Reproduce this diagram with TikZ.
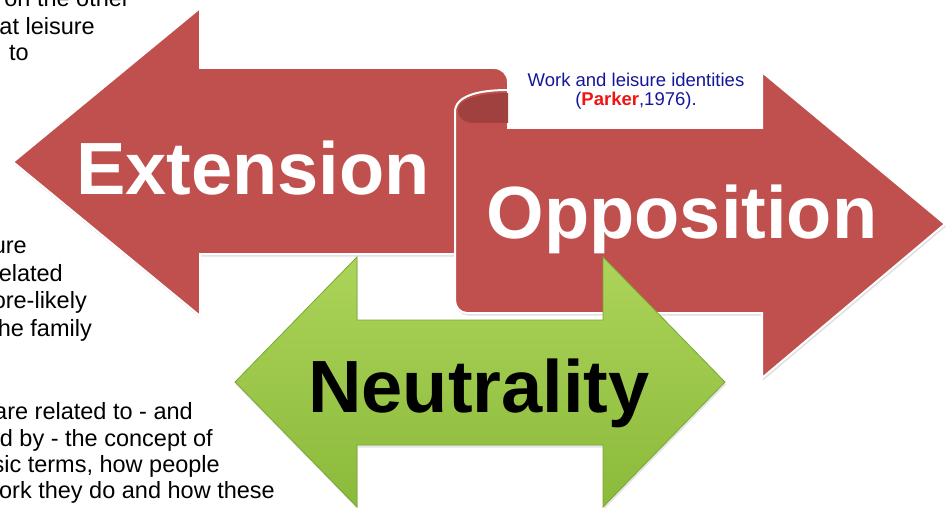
\documentclass[tikz,border=0pt]{standalone}
\usepackage{fontspec}
\setmainfont{Liberation Sans}
\usetikzlibrary{shadows}
\definecolor{arrowred}{HTML}{C0504D}
\definecolor{curlred}{HTML}{A0413F}
\definecolor{ngreenT}{HTML}{ACD45A}
\definecolor{ngreenB}{HTML}{8BBA3A}
\definecolor{ngreenE}{HTML}{7AA732}
\definecolor{boxblue}{HTML}{16169A}
\definecolor{parkred}{HTML}{F01414}
\begin{document}
\begin{tikzpicture}[x=1pt,y=-1pt,
  redarrow/.style={fill=arrowred, draw=white, line width=2pt, line join=miter,
    drop shadow={shadow xshift=1pt, shadow yshift=-2.5pt, opacity=0.25}},
  greenarrow/.style={top color=ngreenT, bottom color=ngreenB, draw=ngreenE, line width=0.8pt,
    drop shadow={shadow xshift=1pt, shadow yshift=-2.5pt, opacity=0.2}},
  bigwhite/.style={text=white, font=\fontsize{74}{80}\selectfont\bfseries, inner sep=0pt, anchor=base},
  bigblack/.style={text=black, font=\fontsize{74}{80}\selectfont\bfseries, inner sep=0pt, anchor=base},
  sidetext/.style={text=black, font=\fontsize{23.5}{27}\selectfont, inner sep=0pt, anchor=base east},
  boxtext/.style={text=boxblue, font=\fontsize{18.5}{20}\selectfont, inner sep=0pt, anchor=base}]
\useasboundingbox (0,0) rectangle (946,508);
\fill[white] (0,0) rectangle (946,508);

% side text (cut off at the left)
\node[sidetext] (s1) at (130,7) {on the other};
\node[sidetext] (s2) at (95,35) {at leisure};
\node[sidetext] (s3) at (29,61) {to};
\node[sidetext] (s4) at (27,254) {ure};
\node[sidetext] (s5) at (63,281) {elated};
\node[sidetext] (s6) at (87,308) {ore-likely};
\node[sidetext] (s7) at (92,336) {he family};
\node[sidetext] (s8) at (193,419) {are related to - and};
\node[sidetext] (s9) at (213,446) {d by - the concept of};
\node[sidetext] (s10) at (220,472) {sic terms, how people};
\node[sidetext] (s11) at (275,498) {ork they do and how these};

% Extension arrow (pointing left)
\path[redarrow] (13,162) -- (200,8) -- (200,68) -- (494,68)
  .. controls (502,68) and (508,74) .. (508,82) -- (508,254) -- (200,254) -- (200,316) -- cycle;

% Opposition arrow (pointing right) with curled top-left
\path[redarrow] (508,90) .. controls (478,90) and (455,96) .. (455,112) -- (455,300)
  .. controls (455,307) and (460,313) .. (467,313) -- (762,313) -- (762,378) -- (945,224)
  -- (762,72) -- (762,128) -- (508,128) -- cycle;
\fill[curlred] (508,93) .. controls (480,93) and (458,99) .. (458,110)
  .. controls (458,118) and (464,123) .. (474,123) -- (508,123) -- cycle;

% Neutrality double arrow
\path[greenarrow] (235,382) -- (357,257) -- (357,320) -- (603,320) -- (603,257) -- (725,382)
  -- (603,507) -- (603,445) -- (357,445) -- (357,507) -- cycle;

% labels
\node[bigwhite] (ext) at (253,195) {Extension};
\node[bigwhite] (opp) at (682,238) {Opposition};
\node[bigblack] (neu) at (479,412) {Neutrality};
\node[boxtext] (b1) at (636,87) {Work and leisure identities};
\node[boxtext] (b2) at (636,106) {({\color{parkred}\bfseries Parker},1976).};
\end{tikzpicture}
\end{document}
